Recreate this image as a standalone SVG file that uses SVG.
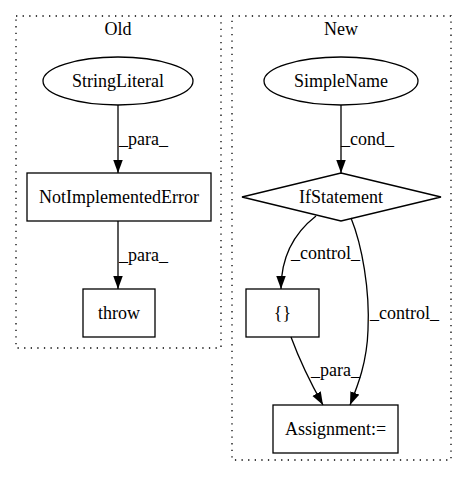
<svg xmlns="http://www.w3.org/2000/svg" width="467" height="480" viewBox="0 0 467 480">
<style>
text{font-family:'Liberation Serif','Times New Roman',Times,serif;font-size:18px;fill:#000}
.c{text-anchor:middle}
.cl{fill:none;stroke:#000;stroke-width:1.3;stroke-dasharray:1.3,5.3}
.n{fill:none;stroke:#000;stroke-width:1.3}
.e{fill:none;stroke:#000;stroke-width:1.3}
</style>
<defs>
<marker id="a" markerUnits="userSpaceOnUse" markerWidth="16" markerHeight="12" refX="13" refY="4.75" orient="auto">
<path d="M0,0 L13,4.75 L0,9.5 Z" fill="#000" stroke="none"/>
</marker>
</defs>
<rect width="467" height="480" fill="#fff"/>
<g id="cluster_old">
<rect class="cl" x="16" y="16" width="205" height="332"/>
<text class="c" x="118" y="35">Old</text>
</g>
<g id="cluster_new">
<rect class="cl" x="232" y="16" width="219" height="444"/>
<text class="c" x="341" y="35">New</text>
</g>
<g id="edges">
<path class="e" d="M118,105 L118,173" marker-end="url(#a)"/>
<text x="119" y="145">_para_</text>
<path class="e" d="M118,221 L118,289" marker-end="url(#a)"/>
<text x="119" y="261">_para_</text>
<path class="e" d="M341,105 L341,173" marker-end="url(#a)"/>
<text x="341" y="145">_cond_</text>
<path class="e" d="M316,216 C298,230 281,252 281,289" marker-end="url(#a)"/>
<text x="291" y="259">_control_</text>
<path class="e" d="M351,218 C362,245 370,290 368,330 C367,362 358,385 350,405" marker-end="url(#a)"/>
<text x="370" y="319">_control_</text>
<path class="e" d="M291,337 C298,356 310,382 323,405" marker-end="url(#a)"/>
<text x="311" y="376">_para_</text>
</g>
<g id="StringLiteral">
<ellipse class="n" cx="118" cy="81" rx="75" ry="24"/>
<text class="c" x="118" y="87">StringLiteral</text>
</g>
<g id="NotImplementedError">
<rect class="n" x="27" y="173" width="184" height="48"/>
<text class="c" x="119" y="203">NotImplementedError</text>
</g>
<g id="throw">
<rect class="n" x="83" y="289" width="72" height="48"/>
<text class="c" x="119" y="319">throw</text>
</g>
<g id="SimpleName">
<ellipse class="n" cx="341" cy="81" rx="77" ry="24"/>
<text class="c" x="341" y="87">SimpleName</text>
</g>
<g id="IfStatement">
<polygon class="n" points="341,173 441,197 341,221 242,197"/>
<text class="c" x="341" y="203">IfStatement</text>
</g>
<g id="Block">
<rect class="n" x="246" y="289" width="73" height="48"/>
<text class="c" x="282.5" y="319">{}</text>
</g>
<g id="Assignment">
<rect class="n" x="273" y="405" width="125" height="48"/>
<text class="c" x="335.5" y="435">Assignment:=</text>
</g>
</svg>
